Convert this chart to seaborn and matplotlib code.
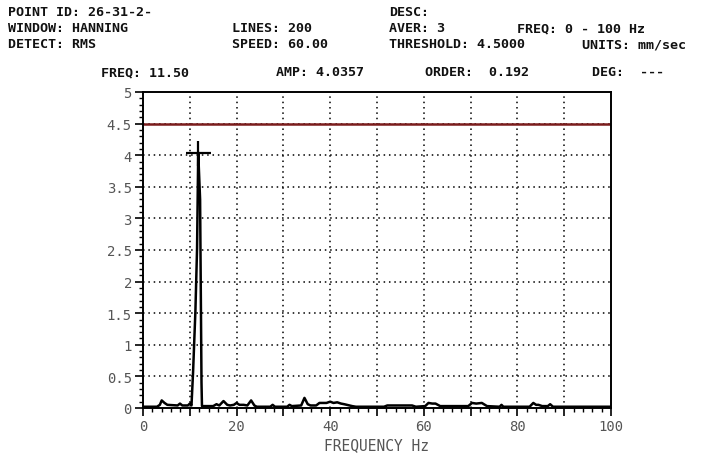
import matplotlib
matplotlib.use("Agg")
import matplotlib.pyplot as plt
import seaborn as sns
import pandas as pd
from matplotlib.ticker import MultipleLocator

sns.set_style("white")
plt.rcParams["font.family"] = ["DejaVu Sans Mono"]

# spectrum trace (Hz, mm/sec)
freq_hz = [0, 3.0, 3.6, 4.0, 4.6, 5.2, 7.4, 7.9, 8.4, 9.6, 10.0, 10.36,
           10.7, 11.2, 11.55, 11.8, 12.2, 12.5, 12.6, 15.0, 15.7, 16.3,
           17.2, 18.0, 18.6, 19.4, 20.0, 20.6, 21.5, 22.3, 23.1, 23.8,
           24.3, 27.2, 27.7, 28.2, 30.8, 31.3, 31.8, 33.8, 34.5, 35.2,
           35.8, 37.0, 37.7, 39.2, 40.0, 40.7, 41.5, 42.3, 43.0, 44.7,
           45.5, 51.5, 52.2, 57.5, 58.3, 60.3, 61.0, 61.8, 62.5, 63.5,
           69.5, 70.3, 71.2, 72.4, 73.5, 76.2, 76.6, 77.0, 82.6, 83.4,
           84.0, 84.5, 85.3, 86.5, 87.0, 87.6, 100]
amp_mms = [0.02, 0.02, 0.05, 0.12, 0.08, 0.05, 0.04, 0.07, 0.04, 0.04, 0.07, 0.04,
           0.57, 1.54, 2.52, 4.04, 3.3, 0.4, 0.03, 0.03, 0.06, 0.04,
           0.11, 0.05, 0.04, 0.05, 0.08, 0.05, 0.05, 0.04, 0.12, 0.04,
           0.02, 0.02, 0.05, 0.02, 0.02, 0.05, 0.03, 0.04, 0.16, 0.06,
           0.04, 0.04, 0.08, 0.08, 0.10, 0.08, 0.09, 0.07, 0.06, 0.03,
           0.02, 0.02, 0.04, 0.04, 0.02, 0.03, 0.08, 0.07, 0.07, 0.03,
           0.03, 0.08, 0.07, 0.08, 0.03, 0.02, 0.05, 0.02, 0.02, 0.08,
           0.05, 0.05, 0.03, 0.03, 0.06, 0.02, 0.02]

threshold = 4.5
cursor_freq = 11.8
cursor_amp = 4.0357

header = [
    (8, 12, "POINT ID: 26-31-2-"), (389, 12, "DESC:"),
    (8, 29, "WINDOW: HANNING"), (232, 29, "LINES: 200"),
    (389, 29, "AVER: 3"), (517, 29, "FREQ: 0 - 100 Hz"),
    (8, 45, "DETECT: RMS"), (232, 45, "SPEED: 60.00"),
    (389, 45, "THRESHOLD: 4.5000"), (582, 45, "UNITS: mm/sec"),
    (101, 73, "FREQ: 11.50"), (276, 73, "AMP: 4.0357"),
    (425, 73, "ORDER:  0.192"), (592, 73, "DEG:  ---"),
]

W, H = 704, 456
fig = plt.figure(figsize=(W / 100, H / 100), dpi=100)
ax = fig.add_axes([143 / W, 1 - 409 / H, (611 - 143) / W, (409 - 93) / H])

df = pd.DataFrame({"freq": freq_hz, "amp": amp_mms})
sns.lineplot(data=df, x="freq", y="amp", ax=ax, color="black", linewidth=1.8,
             estimator=None, sort=False)
ax.plot([0, 100], [threshold, threshold], color="#7b1c1c", linewidth=1.8)
ax.plot([cursor_freq], [cursor_amp], marker="+", color="black",
        markersize=18, markeredgewidth=1.6)

ax.set_xlim(0, 100)
ax.set_ylim(0, 5)
ax.xaxis.set_minor_locator(MultipleLocator(2))
ax.yaxis.set_minor_locator(MultipleLocator(0.1))
ax.set_yticks([0, 0.5, 1, 1.5, 2, 2.5, 3, 3.5, 4, 4.5, 5])
ax.set_yticklabels(["0", "0.5", "1", "1.5", "2", "2.5", "3", "3.5", "4", "4.5", "5"])
ax.set_xticks([0, 10, 20, 30, 40, 50, 60, 70, 80, 90, 100])
ax.set_xticklabels(["0", "", "20", "", "40", "", "60", "", "80", "", "100"])

# dotted grid every 10 Hz and 0.5 units
for gx in range(10, 100, 10):
    ax.axvline(gx, color="black", linestyle=(0, (1, 2.5)), linewidth=1.1, zorder=0)
for gy in [0.5, 1, 1.5, 2, 2.5, 3, 3.5, 4, 4.5]:
    ax.axhline(gy, color="black", linestyle=(0, (1, 2.5)), linewidth=1.1, zorder=0)

ax.tick_params(axis="both", which="major", direction="out", length=6, width=1.2,
               color="black", labelsize=10, labelcolor="#555555", pad=2, left=True, bottom=True)
ax.tick_params(axis="both", which="minor", direction="out", length=3, width=1.0,
               color="black", left=True, bottom=True)

for s in ax.spines.values():
    s.set_color("black")
    s.set_linewidth(1.4)

ax.set_xlabel("FREQUENCY Hz", fontsize=10.5, color="#555555", labelpad=3)
ax.set_ylabel("")

for x, y, t in header:
    fig.text(x / W, 1 - y / H, t, fontsize=9.6, fontweight="bold",
             va="center", ha="left", color="#111111")

fig.savefig("out.png", dpi=100)
